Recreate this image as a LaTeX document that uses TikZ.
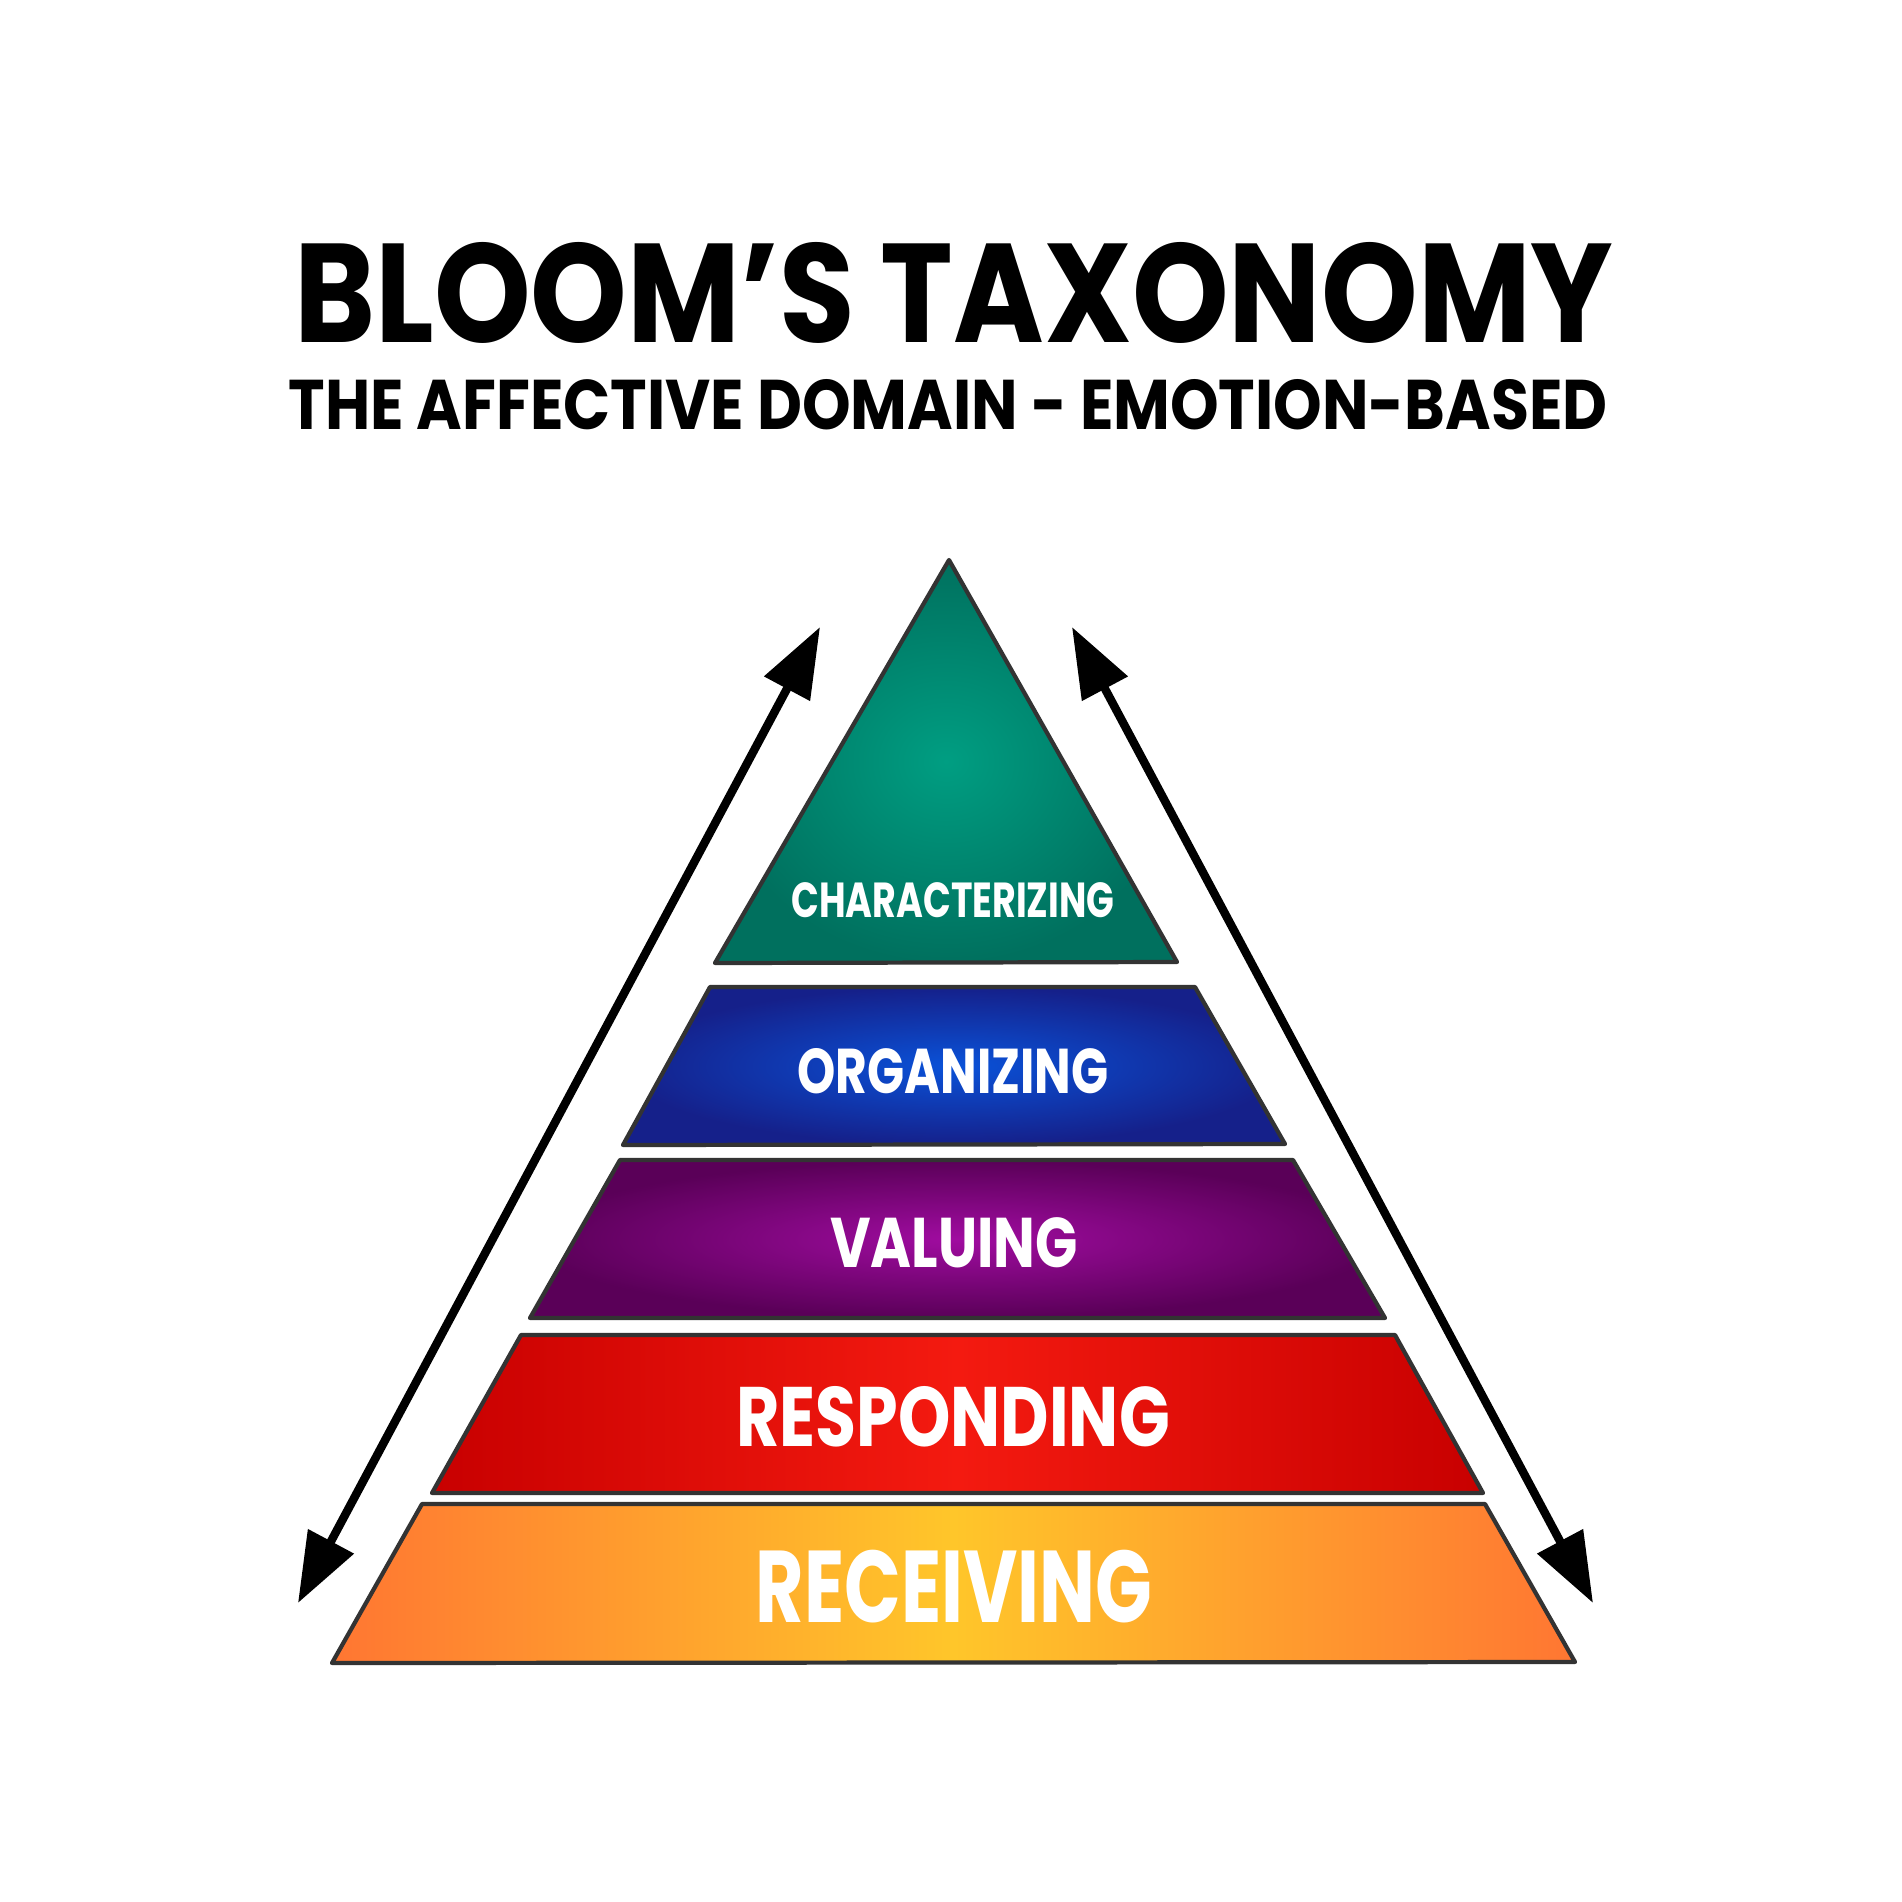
\documentclass[tikz,border=0pt]{standalone}
\usepackage{fontspec}
\setmainfont{Poppins}
\usetikzlibrary{arrows.meta}

\definecolor{bandline}{HTML}{333333}
\definecolor{tealin}{HTML}{009E82}
\definecolor{tealout}{HTML}{00705E}
\definecolor{bluein}{HTML}{0A52D8}
\definecolor{blueout}{HTML}{15208A}
\definecolor{purpin}{HTML}{A00CA0}
\definecolor{purpout}{HTML}{5A0058}
\definecolor{redin}{HTML}{F41A10}
\definecolor{redout}{HTML}{C80000}
\definecolor{orgin}{HTML}{FFC62A}
\definecolor{orgout}{HTML}{FF7632}

\tikzset{
  band/.style={draw=bandline, line width=1.2pt, line join=round},
  lvl/.style={text=white, inner sep=0pt},
  head/.style={inner sep=0pt},
  updown/.style={line width=2.4pt,
    {Triangle[length=7mm,width=5mm]}-{Triangle[length=7mm,width=5mm]}},
}

\begin{document}
\begin{tikzpicture}
  \useasboundingbox (0,0) rectangle (19.02,-19.02);

  % heading
  \node[head, font=\fontsize{40}{44}\selectfont\bfseries, xscale=0.875] (title) at (9.54,-2.93) {BLOOM'S TAXONOMY};
  \node[head, font=\fontsize{20}{24}\selectfont\bfseries, xscale=0.88] (sub) at (9.48,-4.05) {THE AFFECTIVE DOMAIN - EMOTION-BASED};

  % pyramid
  \shade[band, inner color=tealin, outer color=tealout]
    (9.49,-5.60)--(11.77,-9.62)--(7.15,-9.63)--cycle;
  \shade[band, inner color=bluein, outer color=blueout]
    (7.10,-9.87)--(11.95,-9.87)--(12.85,-11.44)--(6.23,-11.45)--cycle;
  \shade[band, inner color=purpin, outer color=purpout]
    (6.20,-11.60)--(12.93,-11.60)--(13.85,-13.18)--(5.30,-13.18)--cycle;
  \shade[band, left color=redout, right color=redout, middle color=redin]
    (5.21,-13.35)--(13.95,-13.35)--(14.83,-14.93)--(4.32,-14.93)--cycle;
  \shade[band, left color=orgout, right color=orgout, middle color=orgin]
    (4.22,-15.04)--(14.85,-15.04)--(15.75,-16.62)--(3.32,-16.63)--cycle;

  \node[lvl, font=\fontsize{14}{16}\selectfont\bfseries, xscale=0.74] (charac) at (9.53,-9.00) {CHARACTERIZING};
  \node[lvl, font=\fontsize{18}{20}\selectfont\bfseries, xscale=0.77] (organ) at (9.53,-10.71) {ORGANIZING};
  \node[lvl, font=\fontsize{20}{22}\selectfont\bfseries, xscale=0.79] (valu) at (9.54,-12.43) {VALUING};
  \node[lvl, font=\fontsize{24}{26}\selectfont\bfseries, xscale=0.79] (respo) at (9.53,-14.17) {RESPONDING};
  \node[lvl, font=\fontsize{29}{31}\selectfont\bfseries, xscale=0.73] (recei) at (9.54,-15.87) {RECEIVING};

  % arrows
  \coordinate (ltop) at (8.20,-6.27);
  \coordinate (lbot) at (2.98,-16.03);
  \coordinate (rtop) at (10.72,-6.27);
  \coordinate (rbot) at (15.93,-16.03);
  \draw[updown] (lbot) -- (ltop);
  \draw[updown] (rtop) -- (rbot);
\end{tikzpicture}
\end{document}
